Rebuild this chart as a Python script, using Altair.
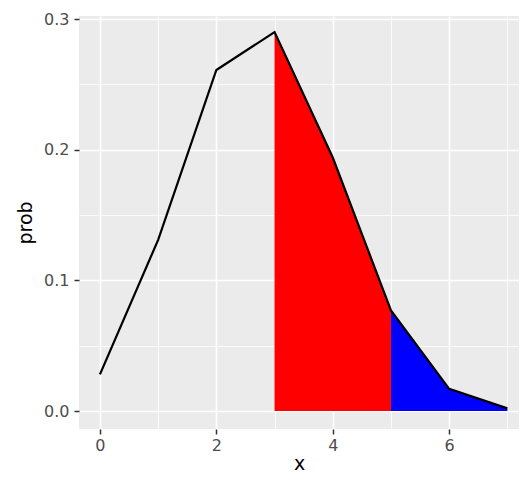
import altair as alt
import pandas as pd

x_vals = [0, 1, 2, 3, 4, 5, 6, 7]
prob_vals = [0.028, 0.131, 0.261, 0.290, 0.194, 0.077, 0.017, 0.002]
red_range = [3, 5]
blue_range = [5, 7]
x_ticks = [0, 1, 2, 3, 4, 5, 6, 7]
y_ticks = [0.0, 0.05, 0.1, 0.15, 0.2, 0.25, 0.3]

df = pd.DataFrame({"x": x_vals, "prob": prob_vals})

FONT = "DejaVu Sans"

x_scale = alt.Scale(domain=[-0.36, 7.2], nice=False, zero=False)
y_scale = alt.Scale(domain=[-0.013775, 0.30230], nice=False, zero=False)

x_axis = alt.Axis(
    values=x_ticks,
    title="x",
    format="d",
    labelExpr="datum.value % 2 === 0 ? datum.label : ''",
    grid=True,
    gridColor="white",
    gridWidth={"condition": {"test": "datum.value % 2 === 0", "value": 1.6}, "value": 0.8},
    tickOpacity={"condition": {"test": "datum.value % 2 === 0", "value": 1}, "value": 0},
    domain=False,
    tickColor="#333333",
    tickSize=5,
    tickWidth=1.5,
    labelColor="#4D4D4D",
    labelFont=FONT,
    labelFontSize=16,
    labelPadding=3,
    titleFont=FONT,
    titleFontSize=19,
    titleFontWeight="normal",
    titleColor="black",
    titlePadding=1,
)

y_axis = alt.Axis(
    values=y_ticks,
    title="prob",
    format=".1f",
    labelExpr="round(datum.value*100) % 10 === 0 ? datum.label : ''",
    grid=True,
    gridColor="white",
    gridWidth={"condition": {"test": "round(datum.value*100) % 10 === 0", "value": 1.6}, "value": 0.8},
    tickOpacity={"condition": {"test": "round(datum.value*100) % 10 === 0", "value": 1}, "value": 0},
    domain=False,
    tickColor="#333333",
    tickSize=5,
    tickWidth=1.5,
    labelColor="#4D4D4D",
    labelFont=FONT,
    labelFontSize=16,
    labelPadding=5,
    titleFont=FONT,
    titleFontSize=19,
    titleFontWeight="normal",
    titleColor="black",
    titlePadding=8,
)

base = alt.Chart(df)

line = base.mark_line(color="black", strokeWidth=2.2).encode(
    x=alt.X("x:Q", scale=x_scale, axis=x_axis),
    y=alt.Y("prob:Q", scale=y_scale, axis=y_axis),
)

red_area = base.transform_filter(
    (alt.datum.x >= red_range[0]) & (alt.datum.x <= red_range[1])
).mark_area(color="#FF0000", opacity=1).encode(
    x=alt.X("x:Q", scale=x_scale, axis=x_axis),
    y=alt.Y("prob:Q", scale=y_scale, axis=y_axis),
    y2=alt.datum(0),
)

blue_area = base.transform_filter(
    (alt.datum.x >= blue_range[0]) & (alt.datum.x <= blue_range[1])
).mark_area(color="#0000FF", opacity=1).encode(
    x=alt.X("x:Q", scale=x_scale, axis=x_axis),
    y=alt.Y("prob:Q", scale=y_scale, axis=y_axis),
    y2=alt.datum(0),
)

chart = alt.layer(red_area, blue_area, line).properties(
    width=440,
    height=413,
    autosize=alt.AutoSizeParams(type="none"),
    padding={"left": 71, "top": 8, "right": 0, "bottom": 44},
    background="white",
).configure_view(
    fill="#EBEBEB",
    stroke=None,
)

chart.save("out.html", embed_options={"renderer": "svg", "actions": False})
